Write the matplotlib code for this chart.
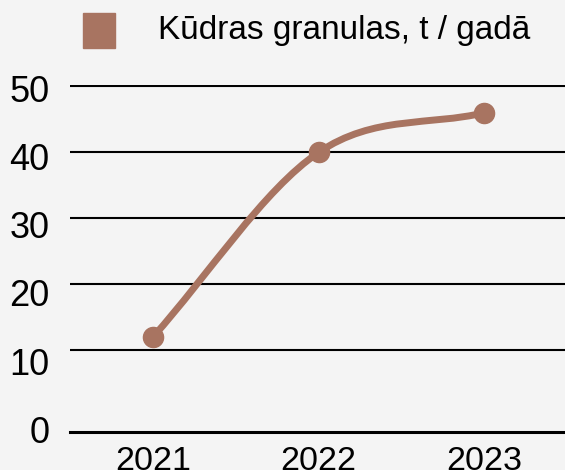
import numpy as np
import matplotlib.pyplot as plt
from matplotlib.path import Path
from matplotlib.patches import PathPatch, Rectangle

years = ['2021', '2022', '2023']
values = [12, 40, 46]
series_name = 'Kūdras granulas, t / gadā'
y_ticks = [10, 20, 30, 40, 50]
y_labels = ['0', '10', '20', '30', '40', '50']

color = '#a87461'
bg = '#f4f4f4'

plt.rcParams['font.family'] = ['Liberation Sans', 'DejaVu Sans']

fig = plt.figure(figsize=(5.65, 4.7), dpi=100, facecolor=bg)
ax = fig.add_axes([0.124, 0.081, 0.88, 0.738], facecolor=bg)

x = np.arange(len(years))
y = np.array(values, dtype=float)

# smooth curve through the points (Catmull-Rom as cubic bezier)
verts = [(x[0], y[0])]
codes = [Path.MOVETO]
px = np.concatenate([[x[0] - 1], x, [x[-1] + 1]])
py = np.concatenate([[2 * y[0] - y[1]], y, [2 * y[-1] - y[-2]]])
for i in range(1, len(px) - 2):
    c1 = (px[i] + (px[i + 1] - px[i - 1]) / 6, py[i] + (py[i + 1] - py[i - 1]) / 6)
    c2 = (px[i + 1] - (px[i + 2] - px[i]) / 6, py[i + 1] - (py[i + 2] - py[i]) / 6)
    verts += [c1, c2, (px[i + 1], py[i + 1])]
    codes += [Path.CURVE4] * 3
ax.add_patch(PathPatch(Path(verts, codes), facecolor='none', edgecolor=color,
                       lw=5, capstyle='round', zorder=3))
ax.plot(x, y, 'o', color=color, ms=14.5, zorder=4)

ymin = -2.4
for t in y_ticks:
    ax.axhline(t, color='black', lw=1.5, zorder=1)
ax.axhline(ymin, color='black', lw=2.2, zorder=1, clip_on=False)

ax.set_xlim(-0.5, 2.5)
ax.set_ylim(ymin, 50.2)
ax.set_xticks(x)
ax.set_xticklabels(years)
# labels in the original sit on their own, slightly wider spacing
ax.set_yticks([-2.0 + 1.035 * v for v in range(0, 60, 10)])
ax.set_yticklabels(y_labels)
ax.tick_params(length=0, colors='black')
ax.tick_params(axis='y', pad=15, labelsize=26)
ax.tick_params(axis='x', pad=10, labelsize=24.5)
for s in ax.spines.values():
    s.set_visible(False)

fig.patches.append(Rectangle((83 / 565, 1 - 48 / 470), 32 / 565, 35 / 470,
                             transform=fig.transFigure, color=color))
fig.text(158 / 565, 1 - 31 / 470, series_name, fontsize=24, va='center', ha='left')

fig.savefig('out.png', dpi=100, facecolor=bg)
